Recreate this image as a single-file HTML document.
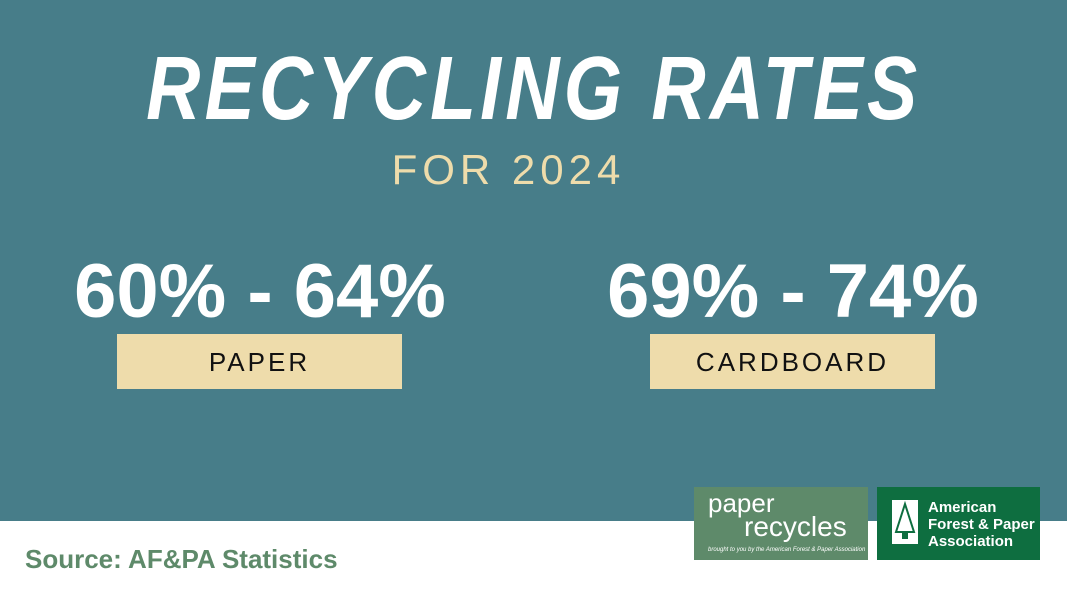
<!DOCTYPE html>
<html><head><style>
body{margin:0;width:1067px;height:600px;position:relative;background:#fff;font-family:"Liberation Sans",sans-serif;overflow:hidden}
.bg{position:absolute;left:0;top:0;width:1067px;height:521px;background:#477d89}
.t{position:absolute;left:0;width:1067px;text-align:center;color:#fff}
.title{top:38px;font-size:90px;font-weight:bold;font-style:italic;letter-spacing:5px;transform:scaleX(0.835);transform-origin:535px 0}
.sub{top:146px;font-size:42px;color:#eedcab;letter-spacing:5px;left:-25px}
.num{position:absolute;top:248px;font-size:76px;font-weight:bold;color:#fff;width:380px;text-align:center}
.box{position:absolute;top:334px;height:55px;width:285px;background:#eedcab;color:#111;font-size:26px;letter-spacing:3px;text-align:center;line-height:57px}
.src{position:absolute;left:25px;top:544px;font-size:26px;font-weight:bold;color:#5e8a6a}
.l1{position:absolute;left:694px;top:487px;width:174px;height:73px;background:#5e8a6a;color:#fff}
.l2{position:absolute;left:877px;top:487px;width:163px;height:73px;background:#0e6e40;color:#fff}
</style></head><body>
<div class="bg"></div>
<div class="t title">RECYCLING RATES</div>
<div class="t sub">FOR 2024</div>
<div class="num" style="left:70px">60% - 64%</div>
<div class="num" style="left:603px">69% - 74%</div>
<div class="box" style="left:117px">PAPER</div>
<div class="box" style="left:650px">CARDBOARD</div>
<div class="src">Source: AF&amp;PA Statistics</div>
<div class="l1">
<div style="position:absolute;left:14px;top:4px;font-size:26px;line-height:24px">paper</div>
<div style="position:absolute;left:50px;top:26px;font-size:28px;line-height:28px">recycles</div>
<div style="position:absolute;left:14px;top:60px;font-size:6px;font-style:italic">brought to you by the American Forest &amp; Paper Association</div>
</div>
<div class="l2">
<div style="position:absolute;left:15px;top:13px;width:26px;height:44px;background:#fff"><svg width="26" height="44"><polygon points="13,4 22,32 4,32" fill="none" stroke="#0e6e40" stroke-width="2"/><rect x="10" y="33" width="6" height="6" fill="#0e6e40"/></svg></div>
<div style="position:absolute;left:51px;top:12px;font-size:15px;font-weight:bold;line-height:17px">American<br>Forest &amp; Paper<br>Association</div>
</div>
</body></html>
